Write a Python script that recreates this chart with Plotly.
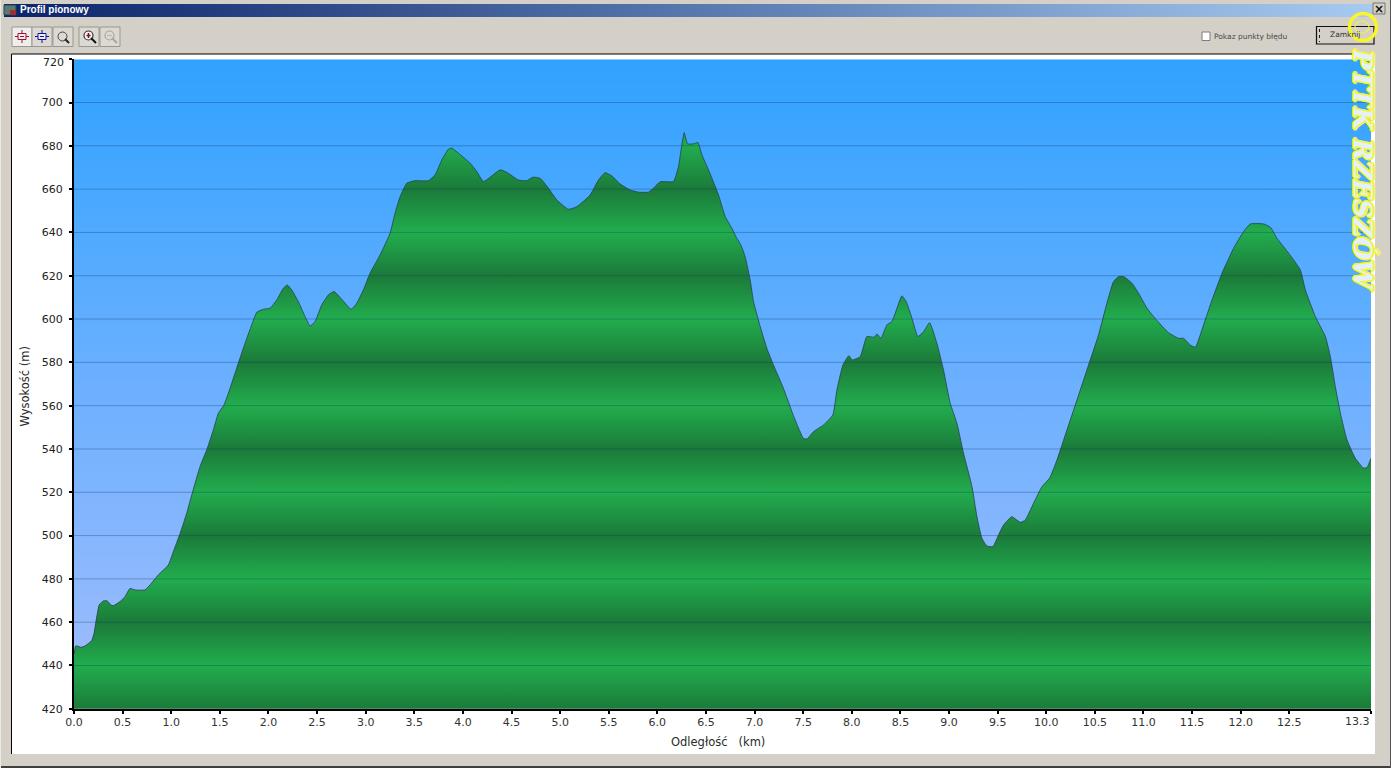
import plotly.graph_objects as go

W, H = 1391, 768

distance_km = [0.0, 0.017, 0.034, 0.072, 0.113, 0.182, 0.206, 0.234, 0.26, 0.301, 0.343, 0.378, 0.404, 0.473, 0.525, 0.576, 0.628, 0.73, 0.782, 0.867, 0.97, 1.022, 1.091, 1.159, 1.221, 1.296, 1.371, 1.433, 1.485, 1.543, 1.605, 1.69, 1.759, 1.828, 1.88, 1.948, 2.016, 2.085, 2.153, 2.194, 2.24, 2.308, 2.377, 2.428, 2.479, 2.548, 2.616, 2.675, 2.754, 2.85, 2.908, 2.976, 3.045, 3.148, 3.251, 3.302, 3.354, 3.423, 3.508, 3.645, 3.714, 3.783, 3.851, 3.886, 3.954, 4.074, 4.143, 4.211, 4.297, 4.383, 4.451, 4.571, 4.657, 4.719, 4.794, 4.88, 4.966, 5.085, 5.172, 5.309, 5.394, 5.463, 5.532, 5.617, 5.72, 5.806, 5.908, 5.96, 6.029, 6.166, 6.217, 6.252, 6.276, 6.31, 6.371, 6.417, 6.458, 6.526, 6.629, 6.698, 6.766, 6.811, 6.859, 6.903, 6.955, 6.989, 7.058, 7.126, 7.194, 7.297, 7.384, 7.452, 7.503, 7.538, 7.606, 7.709, 7.805, 7.847, 7.909, 7.97, 8.004, 8.086, 8.155, 8.23, 8.258, 8.299, 8.361, 8.412, 8.447, 8.515, 8.56, 8.618, 8.68, 8.738, 8.8, 8.875, 8.943, 9.012, 9.081, 9.149, 9.236, 9.287, 9.338, 9.39, 9.451, 9.509, 9.561, 9.647, 9.733, 9.784, 9.869, 9.956, 10.034, 10.11, 10.213, 10.316, 10.435, 10.538, 10.624, 10.692, 10.744, 10.795, 10.882, 10.95, 11.036, 11.139, 11.258, 11.361, 11.413, 11.481, 11.533, 11.618, 11.705, 11.808, 11.927, 12.03, 12.099, 12.236, 12.305, 12.373, 12.493, 12.613, 12.665, 12.768, 12.871, 12.922, 12.973, 13.025, 13.093, 13.179, 13.265, 13.3, 13.34]
elevation_m = [445, 449, 449, 448.4, 449, 451.5, 454.9, 462.5, 468, 469.8, 469.8, 468, 467.6, 469.5, 471.8, 475.6, 474.9, 474.9, 477.2, 481.8, 486.4, 492.6, 501, 510.3, 520.3, 531.8, 540.3, 548.8, 556.5, 560.3, 568, 579.6, 588.8, 597.3, 603.1, 604.5, 605, 608.8, 614.2, 615.7, 613.4, 608, 601.1, 596.8, 598.8, 606.5, 611.1, 612.7, 609.1, 604.5, 607.3, 613.4, 621.2, 629.6, 639.6, 648.9, 656.5, 662.7, 663.9, 663.9, 666.6, 673.5, 678.4, 678.9, 676.6, 672, 668.1, 663.5, 666.1, 668.9, 667.8, 664.2, 663.9, 665.5, 665, 660.4, 655, 650.7, 651.9, 657.3, 664.2, 667.6, 666.1, 662.4, 659.6, 658.6, 658.6, 660.4, 663.4, 663.5, 670.4, 680.4, 686.1, 680.9, 680.9, 681.5, 675.8, 668.9, 657.3, 647.3, 641.9, 637.8, 634.2, 628.8, 618, 608, 596.5, 586.5, 578.8, 568, 557.2, 549.6, 544.9, 544.6, 548, 551.1, 555.7, 567.3, 578.8, 583.1, 581.1, 582.6, 591.9, 591.6, 593.1, 591.1, 597.3, 598.8, 602.7, 610.7, 608, 600.4, 591.9, 594.2, 598.3, 588.8, 576.5, 561.1, 551.9, 538, 522.6, 508.7, 498.8, 495.2, 494.9, 500.3, 504.9, 508.7, 506.1, 507.2, 514.9, 522.6, 526.5, 534.9, 548.8, 562.6, 578.8, 592.7, 607.3, 617.3, 619.6, 619.6, 616.5, 611.9, 605, 599.3, 593.7, 591.1, 591.1, 588, 587, 597.3, 608.8, 621.2, 632.7, 640.4, 643.9, 643.9, 642.4, 637.3, 630.4, 622.7, 613.4, 601.1, 591.9, 582.6, 568.8, 556.5, 544.2, 535.7, 531.1, 531.5, 535.7]

x_ticks = [0.0, 0.5, 1.0, 1.5, 2.0, 2.5, 3.0, 3.5, 4.0, 4.5, 5.0, 5.5, 6.0, 6.5, 7.0, 7.5, 8.0, 8.5, 9.0, 9.5, 10.0, 10.5, 11.0, 11.5, 12.0, 12.5, 13.34]
x_labels = ["0.0", "0.5", "1.0", "1.5", "2.0", "2.5", "3.0", "3.5", "4.0", "4.5", "5.0", "5.5", "6.0", "6.5", "7.0", "7.5", "8.0", "8.5", "9.0", "9.5", "10.0", "10.5", "11.0", "11.5", "12.0", "12.5", "13.3"]
y_ticks = [420, 440, 460, 480, 500, 520, 540, 560, 580, 600, 620, 640, 660, 680, 700, 720]

FONT = "DejaVu Sans"
GREY = "#d4d0c8"
DARK = "#1b7a39"
BRIGHT = "#22ad4e"
TXT = "#2a2a2a"
YELLOW = "#f6f62a"


def X(p):
    return p / W


def Y(p):
    return 1 - p / H


shapes = []
annots = []


def rect(x0, y0, x1, y1, fill=None, line=None, lw=1, layer="above"):
    ln = dict(color=line or "rgba(0,0,0,0)", width=lw if line else 0)
    shapes.append(dict(type="rect", xref="paper", yref="paper", x0=X(x0), x1=X(x1), y0=Y(y0), y1=Y(y1),
                       fillcolor=fill or "rgba(0,0,0,0)", line=ln, layer=layer))


def seg(x0, y0, x1, y1, color, lw=1, dash="solid", layer="above"):
    shapes.append(dict(type="line", xref="paper", yref="paper", x0=X(x0), x1=X(x1), y0=Y(y0), y1=Y(y1),
                       line=dict(color=color, width=lw, dash=dash), layer=layer))


def circ(x0, y0, x1, y1, color, lw=1, fill=None):
    shapes.append(dict(type="circle", xref="paper", yref="paper", x0=X(x0), x1=X(x1), y0=Y(y0), y1=Y(y1),
                       line=dict(color=color, width=lw), fillcolor=fill or "rgba(0,0,0,0)", layer="above"))


def text(px, py, s, size=10, color=TXT, family=FONT, anchor="center", angle=0, **kw):
    annots.append(dict(xref="paper", yref="paper", x=X(px), y=Y(py), text=s, showarrow=False,
                       xanchor=anchor, yanchor="middle", textangle=angle, borderpad=0,
                       font=dict(size=size, color=color, family=family, **kw)))


# window chrome, drawn behind the plot
rect(0, 0, W, H, fill=GREY, layer="below")
rect(11.5, 54, 1375, 754, fill="white", layer="below")
seg(11.5, 54, 1375, 54, "#000000", 1, layer="below")
seg(11.5, 54, 11.5, 754, "#000000", 1, layer="below")
rect(0, 766, W, H, fill="#404040", layer="below")
rect(1390, 0, W, H, fill="#555555", layer="below")
rect(0, 0, 1, H, fill="#ece9e0", layer="below")

# gridlines lie over the profile fill
for v in y_ticks[1:-1]:
    shapes.append(dict(type="line", xref="x", yref="y", x0=0, x1=13.34, y0=v, y1=v,
                       line=dict(color="rgba(15,55,105,0.33)", width=1), layer="above"))

# toolbar buttons
for bx in (12, 32, 53, 79, 100):
    rect(bx, 27, bx + 20, 46.5, fill="#dcd9d2" if bx != 12 else "#eeeeea", line="#9a9790", lw=1)
for cx, col in [(22, "#a01030"), (42, "#1010a0")]:
    seg(cx - 7, 36.5, cx + 7, 36.5, col)
    seg(cx, 30, cx, 43, col)
    rect(cx - 4, 33.5, cx + 4, 39.5, fill="#eeeeea", line=col)
    seg(cx - 2, 36.5, cx + 2, 36.5, col)
circ(58, 32, 67, 41, "#444444", 1)
seg(65, 39, 69, 43, "#222222", 2)
circ(84, 31, 93, 40, "#333333", 1.2, fill="#f4f4f4")
seg(91, 38, 96, 43, "#111111", 2)
seg(86.5, 35.5, 90.5, 35.5, "#801020", 1.5)
seg(88.5, 33, 88.5, 38, "#801020", 1.5)
circ(105, 31, 114, 40, "#a8a6a0", 1.2)
seg(112, 38, 117, 43, "#a8a6a0", 2)
seg(107, 35.5, 112, 35.5, "#b8b6b0", 1)

# checkbox and close button
rect(1202, 32, 1210, 40.5, fill="white", line="#807d78", lw=1)
text(1251, 36.5, "Pokaz punkty błędu", size=7.5, color="#4a4a4a")
rect(1316.5, 26.5, 1374, 44, fill=GREY, line="#111111", lw=1.2)
seg(1319.5, 29, 1319.5, 42, "#222222", 1, dash="dot")
text(1345, 34.5, "Zamknij", size=7.5, color="#333333")

# close box
rect(1373, 3, 1385, 14, fill=GREY, line="#777777", lw=1)
text(1379, 8.5, "×", size=12, color="#111111", family="DejaVu Sans", weight="bold")

# title
text(19, 9.5, "Profil pionowy", size=10, color="white", family="Liberation Sans", anchor="left", weight="bold")
rect(4, 5, 16, 15, fill="#5a7a70", line="#303858", lw=1)
rect(10, 10, 16, 15, fill="#a03030")

# axis titles
text(24, 386.5, "Wysokość (m)", size=11.5, color=TXT, angle=-90)
text(718, 741.5, "Odległość&nbsp;&nbsp;&nbsp;(km)", size=11.5, color=TXT)

# labels the original pulls inside the plot's extent
text(1357, 721, x_labels[-1], size=11, color="#333333")
text(53.3, 62.5, str(y_ticks[-1]), size=11, color="#222222")

# watermark
circ(1349.5, 13.5, 1376.5, 40.5, YELLOW, 3.5)
circ(1355, 21, 1369, 33, "#f2f240", 1.2)
text(1363, 170, "PTTK RZESZÓW", size=26, color="#e4f0fa", family="DejaVu Serif",
     angle=90, weight="bold", style="italic",
     shadow=f"1.6px 0 0 {YELLOW},-1.6px 0 0 {YELLOW},0 1.6px 0 {YELLOW},0 -1.6px 0 {YELLOW},1.2px 1.2px 0 {YELLOW},-1.2px -1.2px 0 {YELLOW},1.2px -1.2px 0 {YELLOW},-1.2px 1.2px 0 {YELLOW}")

# repeating green bands: dark and bright alternate every axis step
y_lo, y_hi = y_ticks[0], y_ticks[-1]
stops = [[(v - y_lo) / (y_hi - y_lo), DARK if i % 2 == 0 else BRIGHT] for i, v in enumerate(y_ticks)]

fig = go.Figure()
# sky
fig.add_trace(go.Scatter(x=[x_ticks[0], x_ticks[-1]], y=[y_hi, y_hi], mode="none", fill="tozeroy",
                         fillgradient=dict(type="vertical", start=y_lo, stop=y_hi,
                                           colorscale=[[0, "#a3bdfb"], [0.5, "#6cb0ff"], [1, "#30a2ff"]]),
                         hoverinfo="skip", showlegend=False))
# profile
fig.add_trace(go.Scatter(x=distance_km, y=elevation_m, mode="lines", fill="tozeroy",
                         line=dict(color="rgba(40,70,80,0.85)", width=1, shape="spline", smoothing=0.45),
                         fillgradient=dict(type="vertical", start=y_lo, stop=y_hi, colorscale=stops),
                         showlegend=False))
# title bar gradient on a hidden full-window axis pair
fig.add_trace(go.Scatter(x=[4, 1372, 1372, 4, 4], y=[4, 4, 17, 17, 4], xaxis="x2", yaxis="y2", mode="none",
                         fill="toself",
                         fillgradient=dict(type="horizontal", start=4, stop=1372,
                                           colorscale=[[0, "#0a246a"], [1, "#a6caf0"]]),
                         hoverinfo="skip", showlegend=False))

fig.update_layout(
    width=W, height=H, margin=dict(l=0, r=0, t=0, b=0, autoexpand=False), autosize=False,
    paper_bgcolor=GREY, plot_bgcolor="rgba(0,0,0,0)", shapes=shapes, annotations=annots,
    xaxis=dict(domain=[74 / W, 1371 / W], range=[0, 13.34], tickvals=x_ticks,
               ticktext=x_labels[:-1] + [""],
               showgrid=False, zeroline=False, showline=True, linecolor="black", linewidth=2,
               ticks="outside", ticklen=3, tickwidth=1.5, tickcolor="black", tickangle=0,
               tickfont=dict(family=FONT, size=11, color="#333333"), anchor="y", ticklabelstandoff=-1),
    yaxis=dict(domain=[1 - 708.8 / H, 1 - 59.2 / H], range=[y_lo, y_hi], tickvals=y_ticks,
               ticktext=[str(v) for v in y_ticks[:-1]] + [""],
               showgrid=False, zeroline=False, showline=True, linecolor="black", linewidth=2,
               ticks="outside", ticklen=3, tickwidth=1.5, tickcolor="black",
               tickfont=dict(family=FONT, size=11, color="#222222"), anchor="x", ticklabelstandoff=4),
    xaxis2=dict(domain=[0, 1], range=[0, W], visible=False, anchor="y2"),
    yaxis2=dict(domain=[0, 1], range=[H, 0], visible=False, anchor="x2"),
)

fig.write_html("out.html", config=dict(displayModeBar=False),
               post_script="document.body.style.margin='0';document.documentElement.style.overflow='hidden';")
